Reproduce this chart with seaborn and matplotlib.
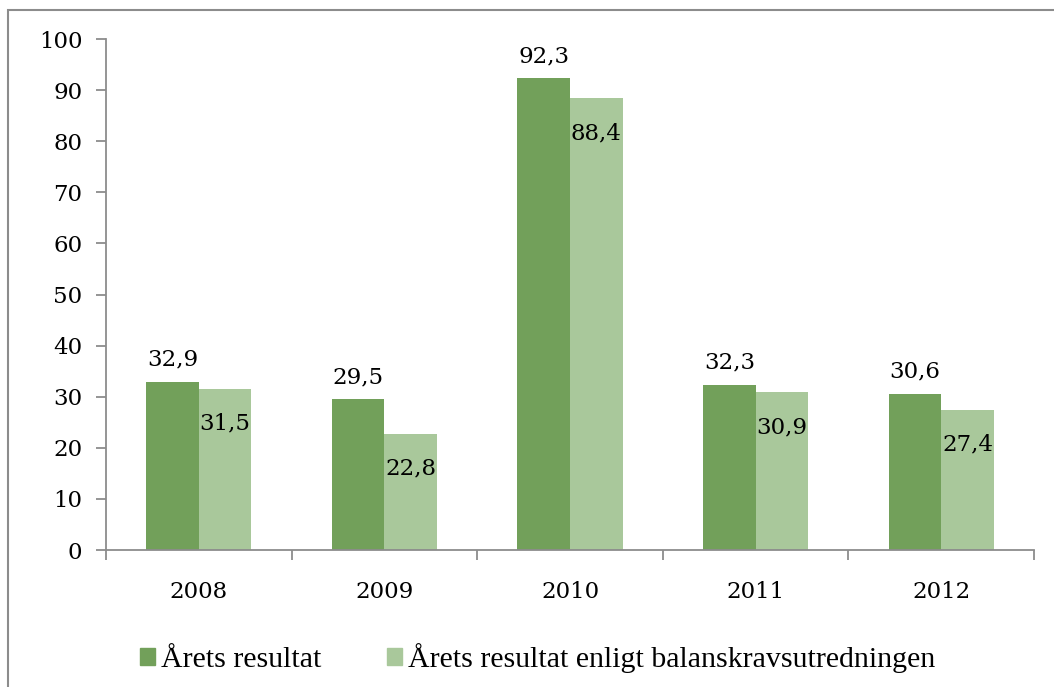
import matplotlib
matplotlib.use("Agg")
import matplotlib.pyplot as plt
from matplotlib.patches import Rectangle
import seaborn as sns
import pandas as pd

years = ["2008", "2009", "2010", "2011", "2012"]
series_names = ["Årets resultat", "Årets resultat enligt balanskravsutredningen"]
arets_resultat = [32.9, 29.5, 92.3, 32.3, 30.6]
balanskrav = [31.5, 22.8, 88.4, 30.9, 27.4]
y_ticks = [0, 10, 20, 30, 40, 50, 60, 70, 80, 90, 100]

colors = ["#72A05A", "#A9C89B"]

df = pd.DataFrame({
    "year": years * 2,
    "value": arets_resultat + balanskrav,
    "series": [series_names[0]] * len(years) + [series_names[1]] * len(years),
})

sns.set_style("white")
plt.rcParams["text.color"] = "black"
plt.rcParams["xtick.color"] = "black"
plt.rcParams["ytick.color"] = "black"
num_font = "DejaVu Serif"
leg_font = "Liberation Serif"

fig = plt.figure(figsize=(10.54, 6.87), dpi=100)
ax = fig.add_axes([0.1006, 0.1994, 0.8804, 0.7438])

sns.barplot(data=df, x="year", y="value", hue="series", palette=colors,
            width=0.566, saturation=1, ax=ax, legend=True, errorbar=None,
            linewidth=0)

ax.set_xlim(-0.5, len(years) - 0.5)
ax.set_ylim(0, 100)
ax.set_yticks(y_ticks)
ax.set_xlabel("")
ax.set_ylabel("")

spine_color = "#8C8C8C"
for s in ["top", "right"]:
    ax.spines[s].set_visible(False)
for s in ["left", "bottom"]:
    ax.spines[s].set_color(spine_color)
    ax.spines[s].set_linewidth(1.3)

ax.tick_params(axis="y", which="major", length=7, width=1.3, color=spine_color,
               labelcolor="black", direction="out", left=True, labelsize=16.5, pad=10)
ax.set_xticks(range(len(years)))
ax.set_xticklabels(years)
ax.set_xticks([i - 0.5 for i in range(len(years) + 1)], minor=True)
ax.tick_params(axis="x", which="major", length=0, labelsize=16.5, pad=22,
               labelcolor="black")
ax.tick_params(axis="x", which="minor", length=7, width=1.3, color=spine_color,
               direction="out", bottom=True)
for lbl in ax.get_xticklabels() + ax.get_yticklabels():
    lbl.set_fontfamily(num_font)

def fmt(v):
    return f"{v:.1f}".replace(".", ",")

c_dark, c_light = ax.containers[0], ax.containers[1]
ax.bar_label(c_dark, labels=[fmt(v) for v in arets_resultat], padding=8,
             fontsize=16.5, fontfamily=num_font, color="black")
ax.bar_label(c_light, labels=[fmt(v) for v in balanskrav], padding=-33,
             fontsize=16.5, fontfamily=num_font, color="black")

ax.get_legend().remove()
handles = [Rectangle((0, 0), 1, 1, color=c) for c in colors]
fig.legend(handles, series_names, loc="center", bbox_to_anchor=(0.51, 0.042),
           ncol=2, frameon=False, handlelength=0.5, handleheight=0.5,
           handletextpad=0.2, columnspacing=2.2,
           prop={"family": leg_font, "size": 21.5})

fig.patches.append(Rectangle((8 / 1054, -0.1), 1.2, 1.1 - 10 / 687,
                             transform=fig.transFigure, fill=False,
                             edgecolor="#8C8C8C", linewidth=1.5, zorder=0))

fig.savefig("out.png", dpi=100)
